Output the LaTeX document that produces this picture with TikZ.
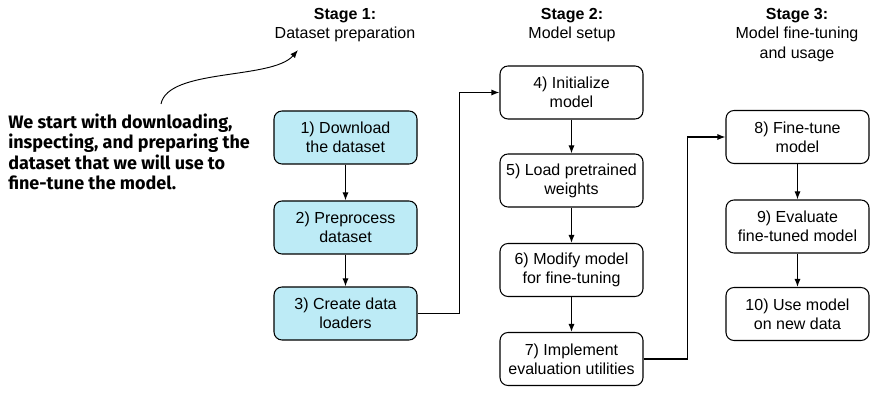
\documentclass[tikz,border=0pt]{standalone}
\usepackage{fontspec}
\setmainfont{Liberation Sans}
\newfontfamily\notefont{Fira Sans}
\usetikzlibrary{arrows.meta}
\definecolor{prepfill}{RGB}{189,235,246}
\begin{document}
\begin{tikzpicture}[x=0.75pt,y=-0.75pt,
  stepbox/.style={draw, line width=0.8pt, rounded corners=6pt,
    minimum width=107.25pt, minimum height=39.75pt, inner sep=2pt,
    align=center, font=\fontsize{12}{14.25}\selectfont},
  prepbox/.style={stepbox, fill=prepfill},
  stagelabel/.style={align=center, inner sep=0pt, font=\fontsize{12}{14.5}\selectfont},
  flow/.style={line width=0.8pt, -{Latex[length=6pt,width=4.5pt]}},
  link/.style={line width=0.8pt, -{Latex[length=6pt,width=4.5pt]}, rounded corners=0pt}
]
\useasboundingbox (0,0) rectangle (884,416);

% stage headings
\node[stagelabel] (s1) at (345,25) {\textbf{Stage 1:}\\Dataset preparation};
\node[stagelabel] (s2) at (572,25) {\textbf{Stage 2:}\\Model setup};
\node[stagelabel] (s3) at (797,35) {\textbf{Stage 3:}\\Model fine-tuning\\and usage};

% stage 1 steps
\node[prepbox] (b1) at (345.5,137.5) {1) Download\\the dataset};
\node[prepbox] (b2) at (345.5,227.5) {2) Preprocess\\dataset};
\node[prepbox] (b3) at (345.5,313.5) {3) Create data\\loaders};

% stage 2 steps
\node[stepbox] (b4) at (571.5,92.5) {4) Initialize\\model};
\node[stepbox] (b5) at (571.5,180.5) {5) Load pretrained\\weights};
\node[stepbox] (b6) at (571.5,270) {6) Modify model\\for fine-tuning};
\node[stepbox] (b7) at (571.5,359) {7) Implement\\evaluation utilities};

% stage 3 steps
\node[stepbox] (b8) at (797.5,137) {8) Fine-tune\\model};
\node[stepbox] (b9) at (797.5,226.5) {9) Evaluate\\fine-tuned model};
\node[stepbox] (b10) at (797.5,314) {10) Use model\\on new data};

% connectors within columns
\draw[flow] (b1) -- (b2);
\draw[flow] (b2) -- (b3);
\draw[flow] (b4) -- (b5);
\draw[flow] (b5) -- (b6);
\draw[flow] (b6) -- (b7);
\draw[flow] (b8) -- (b9);
\draw[flow] (b9) -- (b10);

% connectors between stages
\draw[link] (b3.east) -- ++(42,0) |- (b4.west);
\draw[link] (b7.east) -- ++(44,0) |- (b8.west);

% annotation
\node[anchor=west, align=left, inner sep=0pt,
  font=\notefont\bfseries\fontsize{13.5}{15.3}\selectfont] (note) at (8,152)
  {We start with downloading,\\inspecting, and preparing the\\dataset that we will use to\\fine-tune the model.};
\coordinate (cstart) at (161,104);
\coordinate (cend) at (298,50);
\draw[line width=0.7pt, -{Latex[length=6pt,width=4.5pt]}]
  (cstart) .. controls (168,68) and (272,80) .. (cend);
\end{tikzpicture}
\end{document}
